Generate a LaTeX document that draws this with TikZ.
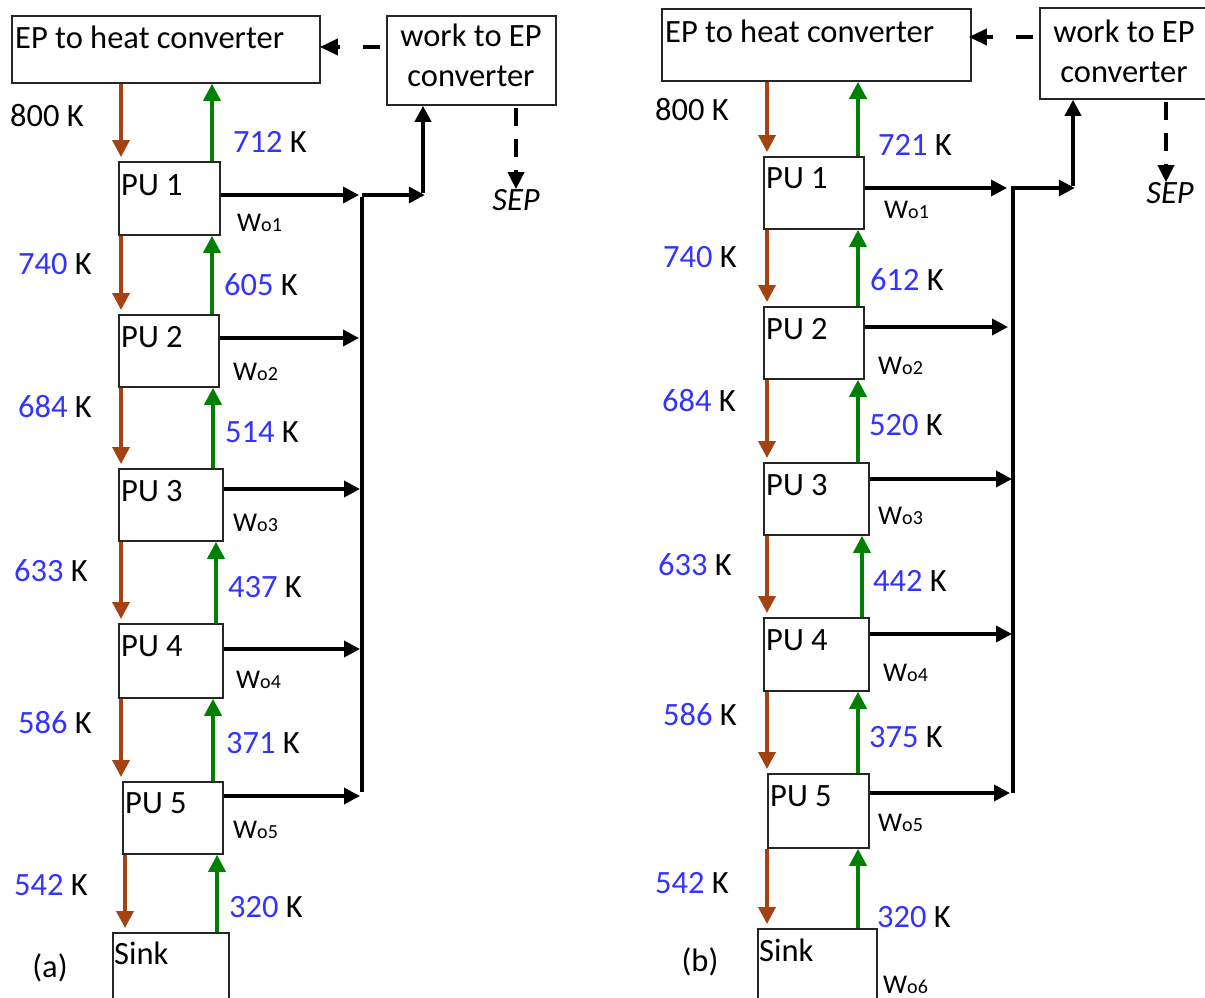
\documentclass[tikz,border=0pt]{standalone}
\usepackage{fontspec}
\setmainfont{Carlito}
\usetikzlibrary{arrows.meta}
\definecolor{numblue}{RGB}{51,51,255}
\definecolor{brn}{RGB}{165,66,18}
\definecolor{grn}{RGB}{0,128,0}
\newcommand\tk[1]{\textcolor{numblue}{#1} K}
\newcommand\wlab[1]{W{\fontsize{20}{23}\selectfont o#1}}
\begin{document}
\begin{tikzpicture}[x=1pt,y=-1pt,
  ubox/.style={draw=black!85, line width=1.8pt, inner sep=0pt, anchor=north west},
  txt/.style={font=\fontsize{32.5}{38}\selectfont, inner sep=0pt},
  wtxt/.style={font=\fontsize{27}{31}\selectfont, inner sep=0pt, anchor=west},
  tip/.style={-{Triangle[length=17pt,width=17pt]}},
  brnarr/.style={tip, draw=brn, fill=brn, line width=3.6pt, shorten >=4pt},
  grnarr/.style={tip, draw=grn, fill=grn, line width=3.6pt},
  blkarr/.style={-{Triangle[length=16pt,width=16pt]}, draw=black, line width=3.6pt},
  dashh/.style={-{Triangle[length=18pt,width=16pt]}, draw=black, line width=3.6pt, dash pattern=on 17pt off 23pt, shorten <=6pt},
  dashv/.style={-{Triangle[length=17pt,width=16pt]}, draw=black, line width=3.6pt, dash pattern=on 18pt off 13pt, shorten <=2pt},
  bus/.style={draw=black, line width=3.6pt}]
\useasboundingbox (0,0) rectangle (1205,998);

% ================= panel (a) =================
\node[ubox, minimum width=308, minimum height=67] (aep) at (11,15) {};
\node[txt, anchor=base west] (aeptxt) at (15,49) {EP to heat converter};
\node[ubox, minimum width=169, minimum height=89] (awk) at (386,15) {};
\node[txt, anchor=base] (awk1) at (471,47) {work to EP};
\node[txt, anchor=base] (awk2) at (471,87) {converter};
\node[txt, anchor=center, font=\fontsize{32.5}{38}\selectfont\itshape] (asep) at (516,200) {SEP};

\node[ubox, minimum width=101, minimum height=73] (apu1) at (118,161) {};
\node[ubox, minimum width=100, minimum height=72] (apu2) at (118,314) {};
\node[ubox, minimum width=104, minimum height=72] (apu3) at (118,468) {};
\node[ubox, minimum width=104, minimum height=74] (apu4) at (118,623) {};
\node[ubox, minimum width=100, minimum height=72] (apu5) at (122,781) {};
\node[ubox, minimum width=116, minimum height=75] (asink) at (112,932) {};
\node[txt, anchor=base west] (apu1t) at (121,195) {PU 1};
\node[txt, anchor=base west] (apu2t) at (121,347) {PU 2};
\node[txt, anchor=base west] (apu3t) at (121,501) {PU 3};
\node[txt, anchor=base west] (apu4t) at (121,656) {PU 4};
\node[txt, anchor=base west] (apu5t) at (125,813) {PU 5};
\node[txt, anchor=base west] (asinkt) at (114,964) {Sink};

% brown (down) and green (up) arrows
\draw[brnarr] (121,0 |- aep.south) -- (121,0 |- apu1.north);
\draw[grnarr] (212,0 |- apu1.north) -- (212,0 |- aep.south);
\draw[brnarr] (121,0 |- apu1.south) -- (121,0 |- apu2.north);
\draw[grnarr] (212,0 |- apu2.north) -- (212,0 |- apu1.south);
\draw[brnarr] (121,0 |- apu2.south) -- (121,0 |- apu3.north);
\draw[grnarr] (213,0 |- apu3.north) -- (213,0 |- apu2.south);
\draw[brnarr] (121,0 |- apu3.south) -- (121,0 |- apu4.north);
\draw[grnarr] (216,0 |- apu4.north) -- (216,0 |- apu3.south);
\draw[brnarr] (121,0 |- apu4.south) -- (121,0 |- apu5.north);
\draw[grnarr] (213,0 |- apu5.north) -- (213,0 |- apu4.south);
\draw[brnarr] (125,0 |- apu5.south) -- (125,0 |- asink.north);
\draw[grnarr] (217,0 |- asink.north) -- (217,0 |- apu5.south);

% temperatures
\node[txt, anchor=west] (a800) at (10,116) {800 K};
\node[txt, anchor=west] (a712) at (233,142) {\tk{712}};
\node[txt, anchor=west] (a740) at (18,264) {\tk{740}};
\node[txt, anchor=west] (a605) at (224,285) {\tk{605}};
\node[txt, anchor=west] (a684) at (18,407) {\tk{684}};
\node[txt, anchor=west] (a514) at (225,432) {\tk{514}};
\node[txt, anchor=west] (a633) at (14,571) {\tk{633}};
\node[txt, anchor=west] (a437) at (228,587) {\tk{437}};
\node[txt, anchor=west] (a586) at (18,723) {\tk{586}};
\node[txt, anchor=west] (a371) at (226,743) {\tk{371}};
\node[txt, anchor=west] (a542) at (14,885) {\tk{542}};
\node[txt, anchor=west] (a320) at (229,907) {\tk{320}};
\node[txt, anchor=center] (alab) at (50,968) {(a)};

% work outputs
\node[wtxt] (aw1) at (237,223) {\wlab{1}};
\node[wtxt] (aw2) at (233,372) {\wlab{2}};
\node[wtxt] (aw3) at (233,523) {\wlab{3}};
\node[wtxt] (aw4) at (236,680) {\wlab{4}};
\node[wtxt] (aw5) at (233,830) {\wlab{5}};

% collector
\coordinate (aj1) at (362,195);
\coordinate (aj2) at (362,338);
\coordinate (aj3) at (362,489);
\coordinate (aj4) at (362,649);
\coordinate (aj5) at (362,796);
\coordinate (ac) at (423,195);
\draw[blkarr] (apu1.east |- aj1) -- ([xshift=-3pt]aj1);
\draw[blkarr] (apu2.east |- aj2) -- ([xshift=-3pt]aj2);
\draw[blkarr] (apu3.east |- aj3) -- ([xshift=-2pt]aj3);
\draw[blkarr] (apu4.east |- aj4) -- ([xshift=-2pt]aj4);
\draw[blkarr] (apu5.east |- aj5) -- ([xshift=-2pt]aj5);
\draw[bus] ([yshift=-1.8pt]aj1) -- ([yshift=4pt]aj5);
\draw[blkarr] (aj1) -- ([xshift=1.8pt]ac);
\draw[blkarr] ([yshift=1.8pt]ac) -- (ac |- awk.south);
\draw[dashh] (awk.west |- 0,47) -- ([xshift=-1pt]aep.east |- 0,47);
\draw[dashv] (516,0 |- awk.south) -- (516,0 |- asep.north);

% ================= panel (b) =================
\node[ubox, minimum width=309, minimum height=72] (bep) at (661,8) {};
\node[txt, anchor=base west] (beptxt) at (665,43) {EP to heat converter};
\node[ubox, minimum width=172, minimum height=91] (bwk) at (1039,7) {};
\node[txt, anchor=base] (bwk1) at (1124,43) {work to EP};
\node[txt, anchor=base] (bwk2) at (1124,82) {converter};
\node[txt, anchor=center, font=\fontsize{32.5}{38}\selectfont\itshape] (bsep) at (1170,193) {SEP};

\node[ubox, minimum width=100, minimum height=72] (bpu1) at (763,156) {};
\node[ubox, minimum width=100, minimum height=72] (bpu2) at (763,306) {};
\node[ubox, minimum width=105, minimum height=72] (bpu3) at (763,462) {};
\node[ubox, minimum width=105, minimum height=73] (bpu4) at (763,617) {};
\node[ubox, minimum width=101, minimum height=74] (bpu5) at (767,773) {};
\node[ubox, minimum width=119, minimum height=80] (bsink) at (757,928) {};
\node[txt, anchor=base west] (bpu1t) at (766,188) {PU 1};
\node[txt, anchor=base west] (bpu2t) at (766,339) {PU 2};
\node[txt, anchor=base west] (bpu3t) at (766,495) {PU 3};
\node[txt, anchor=base west] (bpu4t) at (766,650) {PU 4};
\node[txt, anchor=base west] (bpu5t) at (770,806) {PU 5};
\node[txt, anchor=base west] (bsinkt) at (759,961) {Sink};

\draw[brnarr] (767,0 |- bep.south) -- (767,0 |- bpu1.north);
\draw[grnarr] (858,0 |- bpu1.north) -- (858,0 |- bep.south);
\draw[brnarr] (767,0 |- bpu1.south) -- (767,0 |- bpu2.north);
\draw[grnarr] (858,0 |- bpu2.north) -- (858,0 |- bpu1.south);
\draw[brnarr] (767,0 |- bpu2.south) -- (767,0 |- bpu3.north);
\draw[grnarr] (858,0 |- bpu3.north) -- (858,0 |- bpu2.south);
\draw[brnarr] (767,0 |- bpu3.south) -- (767,0 |- bpu4.north);
\draw[grnarr] (862,0 |- bpu4.north) -- (862,0 |- bpu3.south);
\draw[brnarr] (767,0 |- bpu4.south) -- (767,0 |- bpu5.north);
\draw[grnarr] (858,0 |- bpu5.north) -- (858,0 |- bpu4.south);
\draw[brnarr] (767,0 |- bpu5.south) -- (767,0 |- bsink.north);
\draw[grnarr] (858,0 |- bsink.north) -- (858,0 |- bpu5.south);

\node[txt, anchor=west] (b800) at (655,110) {800 K};
\node[txt, anchor=west] (b721) at (878,145) {\tk{721}};
\node[txt, anchor=west] (b740) at (663,257) {\tk{740}};
\node[txt, anchor=west] (b612) at (870,280) {\tk{612}};
\node[txt, anchor=west] (b684) at (662,401) {\tk{684}};
\node[txt, anchor=west] (b520) at (869,425) {\tk{520}};
\node[txt, anchor=west] (b633) at (658,565) {\tk{633}};
\node[txt, anchor=west] (b442) at (873,581) {\tk{442}};
\node[txt, anchor=west] (b586) at (663,715) {\tk{586}};
\node[txt, anchor=west] (b375) at (869,737) {\tk{375}};
\node[txt, anchor=west] (b542) at (655,883) {\tk{542}};
\node[txt, anchor=west] (b320) at (877,917) {\tk{320}};
\node[txt, anchor=center] (blab) at (700,962) {(b)};

\node[wtxt] (bw1) at (884,210) {\wlab{1}};
\node[wtxt] (bw2) at (878,366) {\wlab{2}};
\node[wtxt] (bw3) at (878,516) {\wlab{3}};
\node[wtxt] (bw4) at (883,673) {\wlab{4}};
\node[wtxt] (bw5) at (878,823) {\wlab{5}};
\node[wtxt] (bw6) at (883,985) {\wlab{6}};

\coordinate (bj1) at (1013,188);
\coordinate (bj2) at (1013,327);
\coordinate (bj3) at (1013,479);
\coordinate (bj4) at (1013,634);
\coordinate (bj5) at (1013,793);
\coordinate (bc) at (1073,188);
\draw[blkarr] (bpu1.east |- bj1) -- ([xshift=-6pt]bj1);
\draw[blkarr] (bpu2.east |- bj2) -- ([xshift=-5pt]bj2);
\draw[blkarr] (bpu3.east |- bj3) -- ([xshift=-1pt]bj3);
\draw[blkarr] (bpu4.east |- bj4) -- ([xshift=-1pt]bj4);
\draw[blkarr] (bpu5.east |- bj5) -- ([xshift=-3pt]bj5);
\draw[bus] ([yshift=-1.8pt]bj1) -- (bj5);
\draw[blkarr] ([xshift=-1.8pt]bj1) -- ([xshift=1.8pt]bc);
\draw[blkarr] ([yshift=1.8pt]bc) -- (bc |- bwk.south);
\draw[dashh] (bwk.west |- 0,37) -- ([xshift=-3pt]bep.east |- 0,37);
\draw[dashv] (1166,0 |- bwk.south) -- (1166,0 |- bsep.north);
\end{tikzpicture}
\end{document}
